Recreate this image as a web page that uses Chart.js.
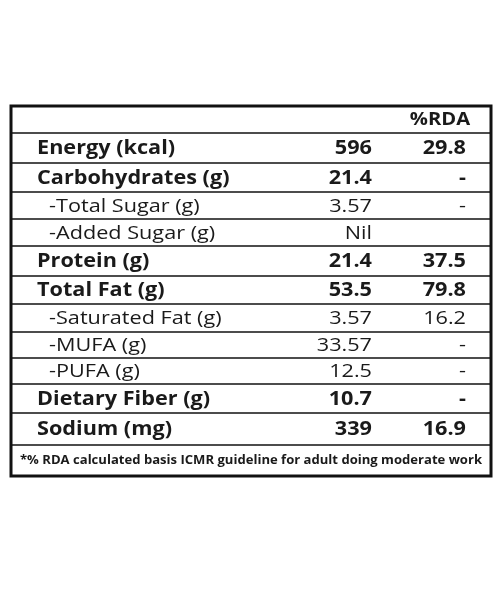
<!DOCTYPE html>
<html><head><meta charset="utf-8">
<script src="https://cdn.jsdelivr.net/npm/chart.js@4"></script>
<style>html,body{margin:0;padding:0;background:#fff}#c{display:block}</style>
</head><body>
<div style="width:500px;height:600px"><canvas id="c"></canvas></div>
<script>
const labels = ["Energy (kcal)","Carbohydrates (g)","-Total Sugar (g)","-Added Sugar (g)","Protein (g)","Total Fat (g)","-Saturated Fat (g)","-MUFA (g)","-PUFA (g)","Dietary Fiber (g)","Sodium (mg)"];
const amounts = ["596","21.4","3.57","Nil","21.4","53.5","3.57","33.57","12.5","10.7","339"];
const rda = ["29.8","-","-","","37.5","79.8","16.2","-","-","-","16.9"];
const bold = [true,true,false,false,true,true,false,false,false,true,true];
const header = "%RDA";
const footnote = "*% RDA calculated basis ICMR guideline for adult doing moderate work";
const rowLines = [133,163,192,219,246,276,304,332,358,384,413,445,476];

function txt(ctx,s,x,y,align,sx){
  ctx.save();ctx.translate(x,y);ctx.scale(sx,1);ctx.textAlign=align;ctx.fillText(s,0,0);ctx.restore();
}
const tablePlugin = {
  id:'table',
  afterDraw(chart){
    const ctx = chart.ctx;
    ctx.save();
    ctx.fillStyle='#fff';ctx.fillRect(0,0,chart.width,chart.height);
    const L=11,R=491,T=106,B=476;
    ctx.strokeStyle='#111';
    ctx.lineWidth=1.3;
    for(let i=0;i<rowLines.length-1;i++){
      ctx.beginPath();ctx.moveTo(L,rowLines[i]);ctx.lineTo(R,rowLines[i]);ctx.stroke();
    }
    ctx.lineWidth=3;
    ctx.strokeRect(L,T,R-L,B-T);
    ctx.fillStyle='#1a1a1a';
    ctx.textBaseline='middle';
    ctx.font='bold 18px "Open Sans"';
    txt(ctx,header,440,120,'center',1.12);
    for(let i=0;i<labels.length;i++){
      const y=(rowLines[i]+rowLines[i+1])/2+1;
      ctx.font=(bold[i]?'bold 19px ':'19px ')+'"Open Sans"';
      txt(ctx,labels[i], bold[i]?37:49, y,'left',1.14);
      txt(ctx,amounts[i],372,y,'right',1.14);
      txt(ctx,rda[i],466,y,'right',1.14);
    }
    ctx.font='bold 12.5px "Open Sans"';
    const w=ctx.measureText(footnote).width;
    txt(ctx,footnote,251,(445+476)/2,'center',462/w);
    ctx.restore();
  }
};
new Chart(document.getElementById('c'),{
  type:'bar',
  data:{labels:labels,datasets:[{data:[],backgroundColor:'#fff'}]},
  options:{responsive:true,maintainAspectRatio:false,animation:false,
    plugins:{legend:{display:false},tooltip:{enabled:false}},
    scales:{x:{display:false},y:{display:false}}},
  plugins:[tablePlugin]
});
</script>
</body></html>
